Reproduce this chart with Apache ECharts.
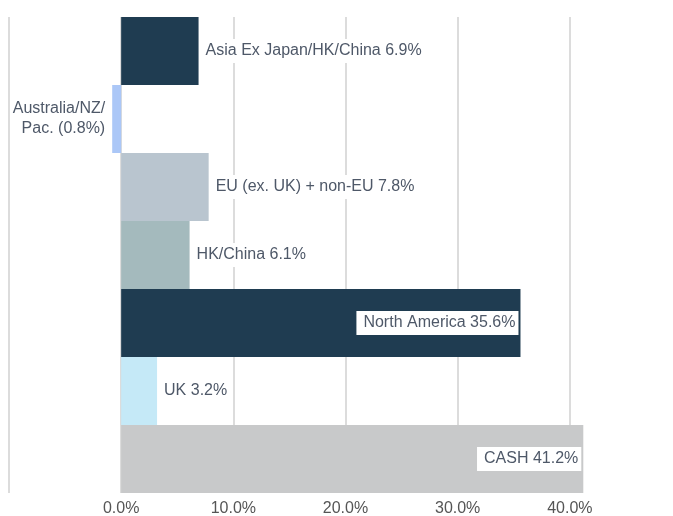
<!DOCTYPE html>
<html>
<head>
<meta charset="utf-8">
<script src="https://cdn.jsdelivr.net/npm/echarts@6/dist/echarts.min.js"></script>
<style>
  html, body { margin: 0; padding: 0; background: #fff; }
  #chart { width: 673px; height: 516px; }
</style>
</head>
<body>
<div id="chart"></div>
<script>
// regions, top to bottom
const categories = ["Asia Ex Japan/HK/China", "Australia/NZ/Pac.", "EU (ex. UK) + non-EU", "HK/China", "North America", "UK", "CASH"];
const weights = [6.9, -0.8, 7.8, 6.1, 35.6, 3.2, 41.2];
const barColors = ["#1f3c51", "#abc7f7", "#b9c5cf", "#a4babd", "#1f3c51", "#c5e9f7", "#c8c9ca"];
const labelTexts = ["Asia Ex Japan/HK/China 6.9%", "Australia/NZ/\nPac. (0.8%)", "EU (ex. UK) + non-EU 7.8%", "HK/China 6.1%", "North America 35.6%", "UK 3.2%", "CASH 41.2%"];
const tickValues = [0, 10, 20, 30, 40];

const chart = echarts.init(document.getElementById("chart"));

const textColor = "#4e5868";

const seriesData = weights.map((v, i) => {
  // big bars get label inside, negative one goes left
  let pos = "right";
  if (v < 0) pos = "left";
  if (v > 30) pos = "insideRight";
  return {
    value: v,
    itemStyle: { color: barColors[i] },
    label: {
      show: true,
      position: pos,
      distance: pos === "insideRight" ? 2 : 6,
      formatter: labelTexts[i],
      color: textColor,
      fontSize: 16,
      lineHeight: 20,
      align: pos === "left" ? "right" : undefined,
      backgroundColor: "#fff",
      padding: pos === "insideRight" ? [2, 3, 2, 7] : [2, 1],
    },
  };
});

const option = {
  animation: false,
  textStyle: { fontFamily: "Liberation Sans, Arial, sans-serif" },
  grid: {
    left: 9,
    width: 673,
    top: 17,
    bottom: 23,
    containLabel: false,
    outerBoundsMode: "none",
  },
  xAxis: {
    type: "value",
    min: -10,
    max: 50,
    interval: 10,
    axisLine: { show: false },
    axisTick: { show: false },
    axisLabel: {
      margin: 8,
      color: "#555",
      fontSize: 16,
      formatter: function (val) {
        return tickValues.indexOf(val) >= 0 ? val.toFixed(1) + "%" : "";
      },
    },
    splitLine: { show: true, lineStyle: { color: "#dcdcdc", width: 2 } },
  },
  yAxis: {
    type: "category",
    inverse: true,
    data: categories,
    axisLine: { show: false },
    axisTick: { show: false },
    axisLabel: { show: false },
  },
  series: [
    {
      type: "bar",
      data: seriesData,
      barCategoryGap: "0%",
    },
  ],
};

chart.setOption(option);
</script>
</body>
</html>
